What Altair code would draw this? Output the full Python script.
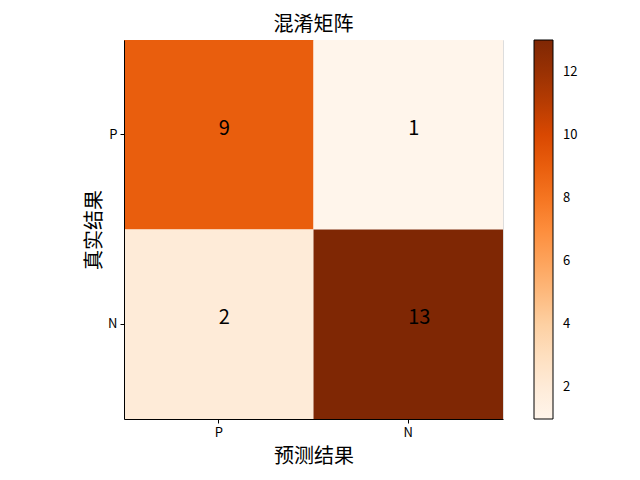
import altair as alt
import pandas as pd

labels = ["P", "N"]
true_labels = ["P", "P", "N", "N"]
pred_labels = ["P", "N", "P", "N"]
counts = [9, 1, 2, 13]
legend_ticks = [2, 4, 6, 8, 10, 12]
oranges = ["#fff5eb", "#fee6ce", "#fdd0a2", "#fdae6b", "#fd8d3c",
           "#f16913", "#d94801", "#a63603", "#7f2704"]
vmin, vmax = 1, 13
stops = [vmin + (vmax - vmin) * i / 8 for i in range(9)]

df = pd.DataFrame({"真实结果": true_labels, "预测结果": pred_labels, "count": counts})

FONT = "Noto Sans CJK SC"

axis_common = dict(labelAngle=0, titleFontSize=20, titleFontWeight="normal",
                   labelFontSize=13, tickSize=4, labelPadding=3,
                   domainColor="black", tickColor="black",
                   labelColor="black", titleColor="black")

base = alt.Chart(df).encode(
    x=alt.X("预测结果:N", sort=labels,
            scale=alt.Scale(paddingInner=0, paddingOuter=0),
            axis=alt.Axis(title="预测结果", titlePadding=7, **axis_common)),
    y=alt.Y("真实结果:N", sort=labels,
            scale=alt.Scale(paddingInner=0, paddingOuter=0),
            axis=alt.Axis(title="真实结果", titlePadding=3, **axis_common)),
)

rects = base.mark_rect().encode(
    color=alt.Color("count:Q",
                    scale=alt.Scale(domain=stops, range=oranges, interpolate="rgb"),
                    legend=alt.Legend(title=None, orient="none", legendX=410, legendY=0,
                                      direction="vertical", gradientLength=379,
                                      gradientThickness=19, gradientStrokeColor="black",
                                      gradientStrokeWidth=1, values=legend_ticks,
                                      labelFontSize=13, labelColor="black",
                                      labelOffset=10, labelOverlap=False))
)

text = base.mark_text(fontSize=20, color="black", font=FONT,
                      align="left", baseline="alphabetic").encode(text="count:Q")

chart = (rects + text).properties(
    width=379, height=379,
    title=alt.Title("混淆矩阵", fontSize=20, fontWeight="normal", font=FONT, color="black", offset=5),
    autosize=alt.AutoSizeParams(type="none"),
    padding={"left": 124, "top": 40, "right": 137, "bottom": 61},
).configure_view(stroke="black", strokeWidth=1).configure(font=FONT)

chart.save("out.html", embed_options={"renderer": "svg", "actions": False})
